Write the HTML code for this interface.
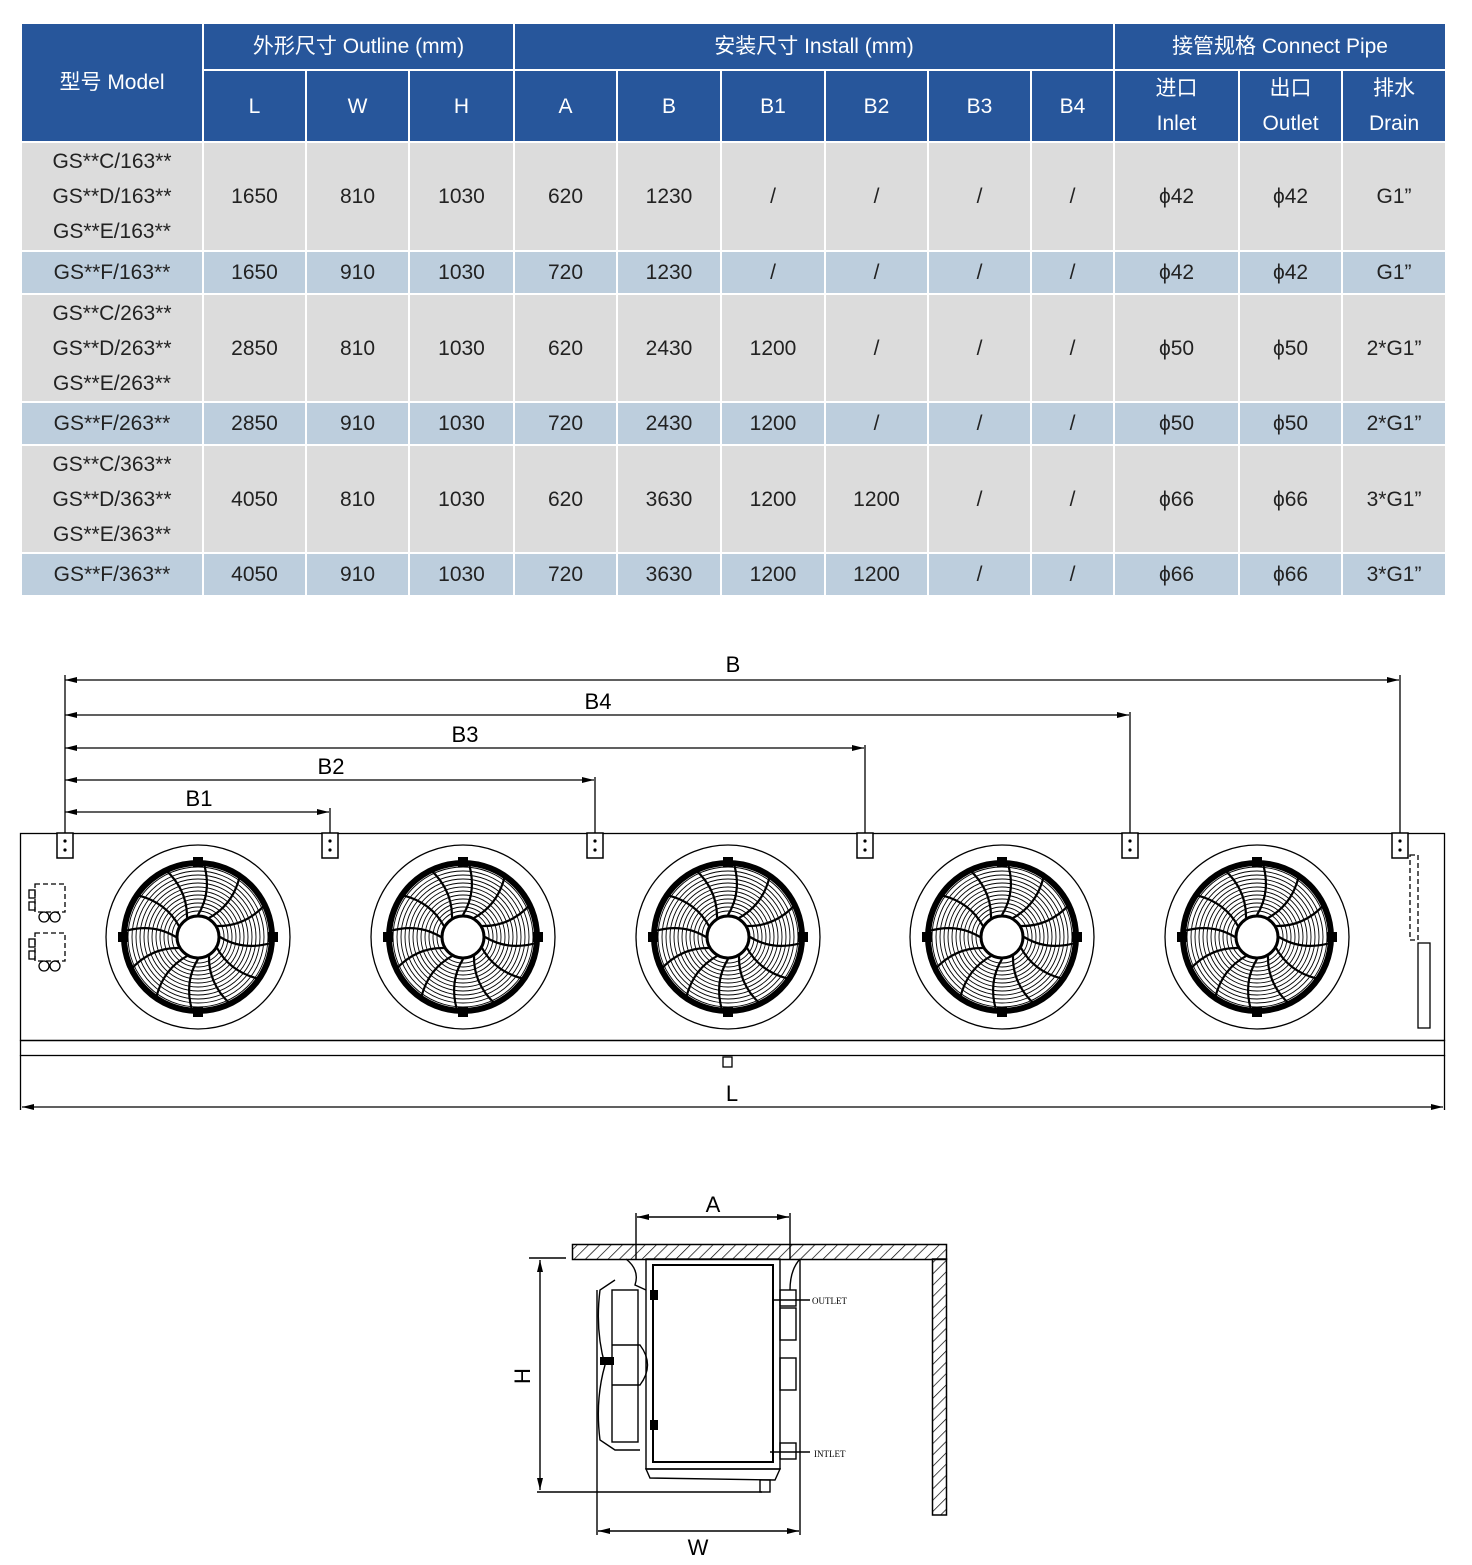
<!DOCTYPE html>
<html><head><meta charset="utf-8"><style>
body{margin:0;background:#fff;width:1472px;height:1565px;position:relative;overflow:hidden;font-family:"Liberation Sans","Noto Sans CJK SC",sans-serif}
table{position:absolute;left:20px;top:22px;border-collapse:collapse;table-layout:fixed;width:1425px}
td{border:2px solid #fff;text-align:center;font-size:21px;color:#222;padding:0;line-height:35px}
.h td,.h2 td{background:#27569b;color:#fff}
.g td{background:#dcdcdc}
.b td{background:#bdcedd}
</style></head><body>
<table>
<colgroup><col style="width:182px"><col style="width:103px"><col style="width:103px"><col style="width:105px"><col style="width:103px"><col style="width:104px"><col style="width:104px"><col style="width:103px"><col style="width:103px"><col style="width:83px"><col style="width:125px"><col style="width:103px"><col style="width:104px"></colgroup>
<tr class="h" style="height:47px"><td rowspan="2">型号 Model</td><td colspan="3">外形尺寸 Outline (mm)</td><td colspan="6">安装尺寸 Install (mm)</td><td colspan="3">接管规格 Connect Pipe</td></tr>
<tr class="h2" style="height:71px"><td>L</td><td>W</td><td>H</td><td>A</td><td>B</td><td>B1</td><td>B2</td><td>B3</td><td>B4</td><td>进口<br>Inlet</td><td>出口<br>Outlet</td><td>排水<br>Drain</td></tr>
<tr class="g" style="height:109px"><td>GS**C/163**<br>GS**D/163**<br>GS**E/163**</td><td>1650</td><td>810</td><td>1030</td><td>620</td><td>1230</td><td>/</td><td>/</td><td>/</td><td>/</td><td>ϕ42</td><td>ϕ42</td><td>G1”</td></tr>
<tr class="b" style="height:43px"><td>GS**F/163**</td><td>1650</td><td>910</td><td>1030</td><td>720</td><td>1230</td><td>/</td><td>/</td><td>/</td><td>/</td><td>ϕ42</td><td>ϕ42</td><td>G1”</td></tr>
<tr class="g" style="height:108px"><td>GS**C/263**<br>GS**D/263**<br>GS**E/263**</td><td>2850</td><td>810</td><td>1030</td><td>620</td><td>2430</td><td>1200</td><td>/</td><td>/</td><td>/</td><td>ϕ50</td><td>ϕ50</td><td>2*G1”</td></tr>
<tr class="b" style="height:43px"><td>GS**F/263**</td><td>2850</td><td>910</td><td>1030</td><td>720</td><td>2430</td><td>1200</td><td>/</td><td>/</td><td>/</td><td>ϕ50</td><td>ϕ50</td><td>2*G1”</td></tr>
<tr class="g" style="height:108px"><td>GS**C/363**<br>GS**D/363**<br>GS**E/363**</td><td>4050</td><td>810</td><td>1030</td><td>620</td><td>3630</td><td>1200</td><td>1200</td><td>/</td><td>/</td><td>ϕ66</td><td>ϕ66</td><td>3*G1”</td></tr>
<tr class="b" style="height:43px"><td>GS**F/363**</td><td>4050</td><td>910</td><td>1030</td><td>720</td><td>3630</td><td>1200</td><td>1200</td><td>/</td><td>/</td><td>ϕ66</td><td>ϕ66</td><td>3*G1”</td></tr>
</table>
<svg width="1472" height="1565" style="position:absolute;left:0;top:0" font-family="Liberation Sans, sans-serif">
<defs>
<marker id="ar" markerWidth="12" markerHeight="6" refX="12" refY="3" orient="auto-start-reverse" markerUnits="userSpaceOnUse"><path d="M0,0L12,3L0,6z" fill="#000"/></marker>
<pattern id="hat" width="8" height="8" patternUnits="userSpaceOnUse" patternTransform="rotate(45)"><line x1="0" y1="0" x2="0" y2="8" stroke="#000" stroke-width="1.4"/></pattern>
<path id="bl" d="M0,-22 Q14,-45 6,-73" fill="none" stroke="#000" stroke-width="2.2"/>
<g id="fan">
<circle r="92" fill="none" stroke="#000" stroke-width="1.3"/>
<g fill="none" stroke="#000" stroke-width="0.9">
<circle r="70"/><circle r="66"/><circle r="62"/><circle r="58"/><circle r="54"/><circle r="50"/><circle r="46"/><circle r="42"/><circle r="38"/><circle r="34"/><circle r="30"/><circle r="26"/>
</g>
<circle r="74" fill="none" stroke="#000" stroke-width="6"/>
<use href="#bl"/><use href="#bl" transform="rotate(30)"/><use href="#bl" transform="rotate(60)"/><use href="#bl" transform="rotate(90)"/><use href="#bl" transform="rotate(120)"/><use href="#bl" transform="rotate(150)"/><use href="#bl" transform="rotate(180)"/><use href="#bl" transform="rotate(210)"/><use href="#bl" transform="rotate(240)"/><use href="#bl" transform="rotate(270)"/><use href="#bl" transform="rotate(300)"/><use href="#bl" transform="rotate(330)"/>
<g fill="#000"><rect x="-5" y="-80" width="10" height="10"/><rect x="-5" y="70" width="10" height="10"/><rect x="-80" y="-5" width="10" height="10"/><rect x="70" y="-5" width="10" height="10"/></g>
<circle r="21" fill="#fff" stroke="#000" stroke-width="3"/>
</g>
<g id="br"><rect x="-8" y="0" width="16" height="25" fill="#fff" stroke="#000" stroke-width="1.5"/><circle cx="0" cy="8" r="1.6"/><circle cx="0" cy="17" r="1.6"/></g>
</defs>
<g stroke="#000" stroke-width="1.3" fill="none">
<rect x="20.5" y="833.5" width="1424" height="207"/>
<rect x="20.5" y="1040.5" width="1424" height="15"/>
<line x1="20.5" y1="1055" x2="20.5" y2="1110"/><line x1="1444.5" y1="1055" x2="1444.5" y2="1110"/>
<line x1="22" y1="1107" x2="1443" y2="1107" marker-start="url(#ar)" marker-end="url(#ar)"/>
<line x1="65" y1="680" x2="1399" y2="680" marker-start="url(#ar)" marker-end="url(#ar)"/>
<line x1="65" y1="715" x2="1129" y2="715" marker-start="url(#ar)" marker-end="url(#ar)"/>
<line x1="65" y1="748" x2="864" y2="748" marker-start="url(#ar)" marker-end="url(#ar)"/>
<line x1="65" y1="780" x2="594" y2="780" marker-start="url(#ar)" marker-end="url(#ar)"/>
<line x1="65" y1="812" x2="329" y2="812" marker-start="url(#ar)" marker-end="url(#ar)"/>
<line x1="65" y1="675" x2="65" y2="833"/><line x1="1400" y1="675" x2="1400" y2="833"/>
<line x1="1130" y1="712" x2="1130" y2="833"/><line x1="865" y1="745" x2="865" y2="833"/>
<line x1="595" y1="777" x2="595" y2="833"/><line x1="330" y1="808" x2="330" y2="833"/>
<rect x="723" y="1057" width="9" height="10"/>
<rect x="35" y="884" width="30" height="28" stroke-dasharray="5,3"/>
<rect x="35" y="933" width="30" height="28" stroke-dasharray="5,3"/>
<rect x="29" y="890" width="6" height="8"/><rect x="29" y="902" width="6" height="8"/><rect x="29" y="939" width="6" height="8"/><rect x="29" y="951" width="6" height="8"/>
<circle cx="44" cy="917" r="5"/><circle cx="55" cy="917" r="5"/><circle cx="44" cy="966" r="5"/><circle cx="55" cy="966" r="5"/>
<rect x="1410" y="855" width="8" height="85" stroke-dasharray="5,3"/>
<rect x="1418" y="943" width="12" height="85"/>
</g>
<g font-size="22" text-anchor="middle" fill="#000">
<text x="733" y="672">B</text><text x="598" y="709">B4</text><text x="465" y="742">B3</text><text x="331" y="774">B2</text><text x="199" y="806">B1</text><text x="732" y="1101">L</text>
</g>
<use href="#br" x="65" y="833"/><use href="#br" x="330" y="833"/><use href="#br" x="595" y="833"/><use href="#br" x="865" y="833"/><use href="#br" x="1130" y="833"/><use href="#br" x="1400" y="833"/>
<use href="#fan" x="198" y="937"/><use href="#fan" x="463" y="937"/><use href="#fan" x="728" y="937"/><use href="#fan" x="1002" y="937"/><use href="#fan" x="1257" y="937"/>
<!-- side view -->
<rect x="572.5" y="1244.5" width="374" height="15" fill="url(#hat)" stroke="#000" stroke-width="1.5"/>
<rect x="932.5" y="1259" width="14" height="256" fill="url(#hat)" stroke="#000" stroke-width="1.5"/>
<g stroke="#000" stroke-width="1.4" fill="none">
<rect x="646" y="1259" width="134" height="210"/>
<rect x="653" y="1265" width="120" height="197" stroke-width="2"/>
<path d="M646,1469 L780,1469 L775,1480 L650,1478 Z"/>
<rect x="780" y="1290" width="16" height="16"/><rect x="780" y="1308" width="16" height="32"/><rect x="780" y="1358" width="16" height="32"/><rect x="780" y="1443" width="16" height="16"/>
<rect x="760" y="1480" width="10" height="12"/>
<path d="M626,1259 Q640,1270 635,1285 L646,1290"/><path d="M800,1259 Q790,1270 790,1290"/>
<path d="M615,1280 L600,1290 Q595,1330 605,1365 Q595,1400 600,1440 L615,1450 L640,1450"/>
<rect x="612" y="1290" width="26" height="152"/>
<path d="M612,1345 L640,1345 Q655,1365 640,1385 L612,1385"/>
<line x1="636" y1="1213" x2="636" y2="1259"/><line x1="790" y1="1213" x2="790" y2="1259"/>
<line x1="637" y1="1217" x2="789" y2="1217" marker-start="url(#ar)" marker-end="url(#ar)"/>
<line x1="529" y1="1258" x2="566" y2="1258"/><line x1="537" y1="1492" x2="762" y2="1492"/>
<line x1="540" y1="1260" x2="540" y2="1490" marker-start="url(#ar)" marker-end="url(#ar)"/>
<line x1="597" y1="1290" x2="597" y2="1535"/><line x1="800" y1="1259" x2="800" y2="1535"/>
<line x1="598" y1="1531" x2="799" y2="1531" marker-start="url(#ar)" marker-end="url(#ar)"/>
<line x1="772" y1="1300" x2="810" y2="1300"/><line x1="770" y1="1452" x2="810" y2="1452"/>
</g>
<rect x="650" y="1290" width="8" height="10" fill="#000"/><rect x="650" y="1420" width="8" height="10" fill="#000"/>
<rect x="600" y="1357" width="14" height="8" fill="#000"/>
<g font-size="22" text-anchor="middle"><text x="713" y="1212">A</text><text x="698" y="1555">W</text><text x="530" y="1376" transform="rotate(-90 530 1376)">H</text></g>
<g font-family="Liberation Serif, serif" font-size="9"><text x="812" y="1304">OUTLET</text><text x="814" y="1457">INTLET</text></g>
</svg>
</body></html>
